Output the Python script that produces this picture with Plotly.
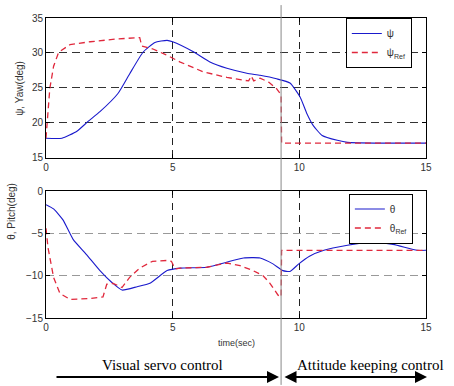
import plotly.graph_objects as go

# Yaw (top panel)
t_psi = [0, 0.63, 1.22, 1.66, 2.13, 2.84, 3.3, 3.83, 4.3, 4.78, 5.0, 5.8, 6.47, 7.14, 7.93, 8.45,
         9.1, 9.63, 10.03, 10.3, 10.55, 10.9, 11.5, 11.9, 13, 14, 15]
psi = [17.8, 17.8, 18.8, 20.2, 21.6, 24.2, 27.0, 30.1, 31.5, 31.8, 31.6, 30.2, 28.7, 27.8, 27.1, 26.8,
       26.3, 25.7, 23.7, 21.3, 19.6, 18.2, 17.5, 17.2, 17.1, 17.1, 17.1]
t_psi_ref = [0, 0.07, 0.15, 0.3, 0.5, 0.95, 1.74, 2.8, 3.7, 3.78, 4.2, 4.7, 5.3, 6.2, 7.14, 7.8, 8.0,
             8.1, 8.2, 8.45, 8.8, 9.1, 9.28, 9.3, 12, 15]
psi_ref = [17.8, 20.6, 24.9, 28.1, 30.1, 31.2, 31.6, 32.0, 32.2, 31.0, 30.6, 29.8, 28.7, 27.3, 26.5,
           26.1, 26.0, 26.7, 26.0, 26.4, 25.8, 24.9, 24.0, 17.1, 17.1, 17.1]

# Pitch (bottom panel)
t_theta = [0, 0.3, 0.67, 1.07, 1.6, 2.13, 2.6, 3.0, 3.6, 4.1, 4.78, 5.3, 6.35, 7.26, 7.8, 8.45, 8.96,
           9.35, 9.63, 9.98, 10.4, 10.97, 11.9, 12.8, 13.7, 14.65, 15]
theta = [-1.6, -2.1, -3.4, -5.7, -7.5, -9.4, -10.8, -11.7, -11.3, -10.9, -9.4, -9.1, -9.0, -8.3, -7.9,
         -7.9, -8.6, -9.4, -9.5, -8.6, -7.7, -7.0, -6.4, -6.0, -6.3, -7.0, -7.0]
t_theta_ref = [0, 0.08, 0.3, 0.55, 0.95, 1.74, 2.25, 2.4, 2.65, 3.0, 3.3, 3.7, 4.2, 4.78, 4.95, 5.1,
               5.3, 6.35, 7.14, 7.66, 8.17, 8.57, 8.84, 9.16, 9.28, 9.3, 12, 15]
theta_ref = [-4.4, -6.7, -10.2, -12.1, -12.8, -12.7, -12.5, -11.0, -10.9, -11.4, -10.2, -9.1, -8.3,
             -8.2, -8.3, -9.2, -9.1, -9.0, -8.5, -8.8, -9.4, -10.0, -10.9, -12.3, -12.5, -7.0, -7.0, -7.0]

x_ticks = [0, 5, 10, 15]
yaw_ticks = [15, 20, 25, 30, 35]
pitch_ticks = [0, -5, -10, -15]
switch_time = 9.28

BLUE = "#1a1acc"
RED = "#e0283c"

fig = go.Figure()
fig.add_trace(go.Scatter(x=t_psi, y=psi, mode="lines", name="ψ",
                         line=dict(color=BLUE, width=1.1, shape="spline", smoothing=0.5),
                         xaxis="x", yaxis="y", legend="legend"))
fig.add_trace(go.Scatter(x=t_psi_ref, y=psi_ref, mode="lines", name="ψ<sub>Ref</sub>",
                         line=dict(color=RED, width=1.3, dash="6px,4px"),
                         xaxis="x", yaxis="y", legend="legend"))
fig.add_trace(go.Scatter(x=t_theta, y=theta, mode="lines", name="θ",
                         line=dict(color=BLUE, width=1.1, shape="spline", smoothing=0.5),
                         xaxis="x2", yaxis="y2", legend="legend2"))
fig.add_trace(go.Scatter(x=t_theta_ref, y=theta_ref, mode="lines", name="θ<sub>Ref</sub>",
                         line=dict(color=RED, width=1.3, dash="6px,4px"),
                         xaxis="x2", yaxis="y2", legend="legend2"))

tickfont = dict(family="Liberation Sans, Arial", size=10, color="#333")
common_x = dict(range=[0, 15], tickvals=x_ticks, showline=True, linecolor="black", linewidth=1,
                mirror="ticks", ticks="inside", ticklen=4, tickcolor="black", showgrid=True,
                gridcolor="#222", griddash="7px,5px", gridwidth=1, zeroline=False, tickfont=tickfont)
common_y = dict(showline=True, linecolor="black", linewidth=1, mirror="ticks", ticks="inside",
                ticklen=4, tickcolor="black", showgrid=True, griddash="8px,5px", gridwidth=1,
                zeroline=False, tickfont=tickfont)

legend_font = dict(family="Liberation Sans, Arial", size=10, color="#333")
fig.update_layout(
    width=454, height=386,
    margin=dict(l=46, r=28, t=13, b=68),
    paper_bgcolor="white", plot_bgcolor="white",
    showlegend=True,
    xaxis=dict(domain=[0, 1], anchor="y", **common_x),
    yaxis=dict(domain=[0.534, 1.0], anchor="x", range=[15, 35], tickvals=yaw_ticks,
               gridcolor="#333", **common_y),
    xaxis2=dict(domain=[0, 1], anchor="y2", **common_x),
    yaxis2=dict(domain=[0, 0.423], anchor="x2", range=[-15, 0], tickvals=pitch_ticks,
                gridcolor="#999", **common_y),
    legend=dict(x=0.789, y=1.0, xanchor="left", yanchor="top", bgcolor="white",
                bordercolor="black", borderwidth=1, font=legend_font,
                tracegroupgap=0, itemwidth=30),
    legend2=dict(x=0.797, y=0.415, xanchor="left", yanchor="top", bgcolor="white",
                 bordercolor="black", borderwidth=1, font=legend_font,
                 tracegroupgap=0, itemwidth=30),
)

# Axis titles
title_font = dict(family="Liberation Sans, Arial", size=10, color="#333")
fig.add_annotation(xref="paper", yref="paper", x=(20 - 46) / 380, y=(318 - 85) / 305,
                   text="ψ, Yaw(deg)", textangle=-90, showarrow=False, font=title_font,
                   xanchor="center", yanchor="middle")
fig.add_annotation(xref="paper", yref="paper", x=(12 - 46) / 380, y=(318 - 210) / 305,
                   text="θ, Pitch(deg)", textangle=-90, showarrow=False, font=title_font,
                   xanchor="center", yanchor="middle")
fig.add_annotation(xref="paper", yref="paper", x=(236 - 46) / 380, y=(318 - 343) / 305,
                   text="time(sec)", showarrow=False,
                   font=dict(family="Liberation Sans, Arial", size=9, color="#333"),
                   xanchor="center", yanchor="middle")

# Vertical mode-switch line across the whole figure
fig.add_shape(type="line", xref="x", yref="paper", x0=switch_time, x1=switch_time,
              y0=-0.223, y1=1.043, line=dict(color="#888", width=1), layer="above")

# Phase arrows and labels
arrow_y = (318 - 378) / 305
fig.add_annotation(xref="paper", yref="paper", x=(279 - 46) / 380, y=arrow_y, ax=-224, ay=0,
                   showarrow=True, arrowhead=2, arrowsize=1.2,
                   arrowwidth=2, arrowcolor="black", text="")
fig.add_annotation(xref="paper", yref="paper", x=(427 - 46) / 380, y=arrow_y, ax=-144, ay=0,
                   showarrow=True, arrowhead=2, startarrowhead=2, arrowside="end+start",
                   arrowsize=1.2, startarrowsize=1.2, arrowwidth=2, arrowcolor="black", text="")
label_font = dict(family="Liberation Serif, Times New Roman", size=15, color="black")
fig.add_annotation(xref="paper", yref="paper", x=(162 - 46) / 380, y=(318 - 366) / 305,
                   text="Visual servo control", showarrow=False, font=label_font,
                   xanchor="center", yanchor="middle")
fig.add_annotation(xref="paper", yref="paper", x=(370 - 46) / 380, y=(318 - 366) / 305,
                   text="Attitude keeping control", showarrow=False, font=label_font,
                   xanchor="center", yanchor="middle")

fig.write_html("out.html")
